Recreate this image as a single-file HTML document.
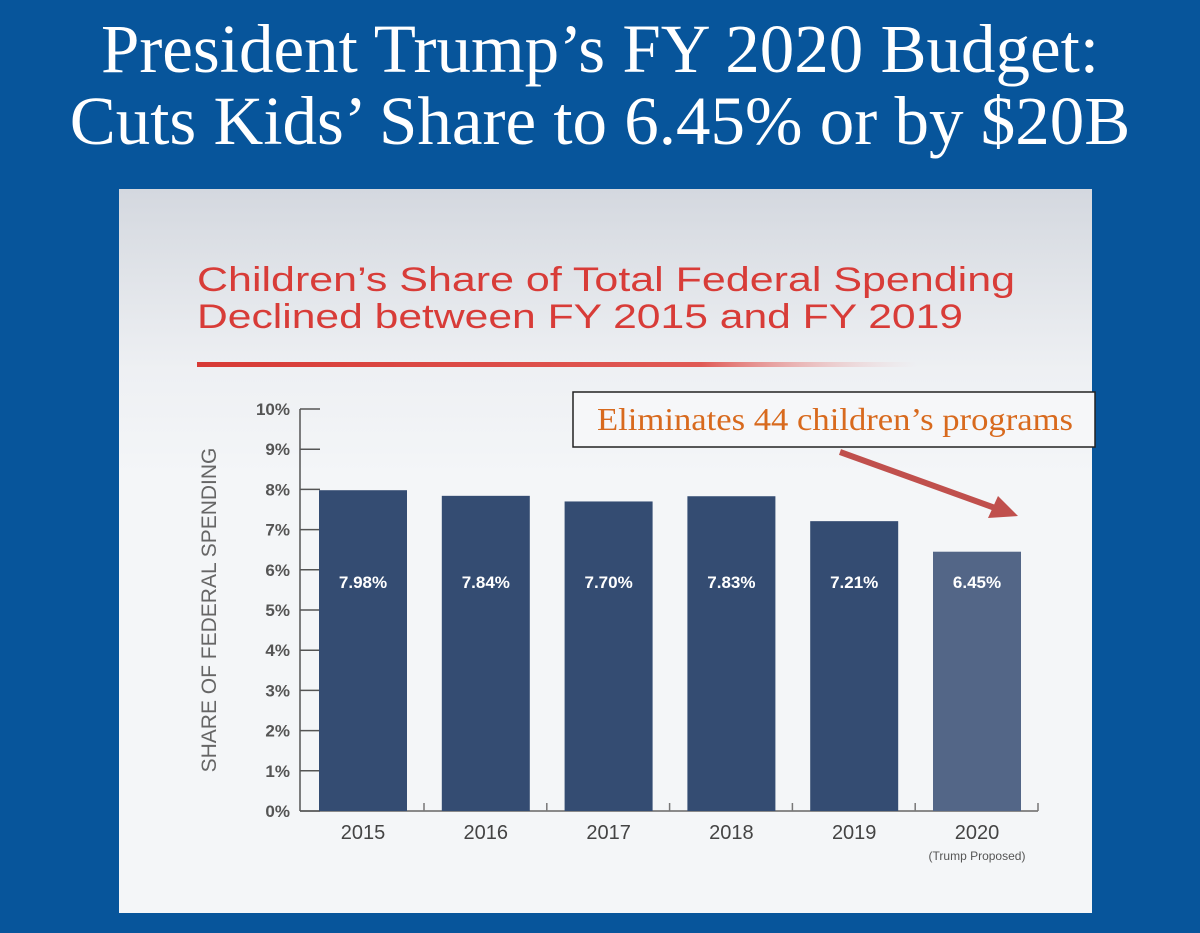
<!DOCTYPE html>
<html><head><meta charset="utf-8"><style>
body{margin:0;width:1200px;height:933px;background:#07559b;overflow:hidden;font-family:"Liberation Sans",sans-serif}
#t{position:absolute;left:0;top:13px;width:1200px;text-align:center;color:#fff;font-family:"Liberation Serif",serif;font-size:69px;line-height:72px}
#panel{position:absolute;left:119px;top:189px;width:973px;height:724px;background:linear-gradient(#d4d8df,#eef0f3 25%,#f4f6f8 40%,#f4f6f8)}
svg{position:absolute;left:0;top:0}
</style></head><body>
<div id="t">President Trump’s FY 2020 Budget:<br>Cuts Kids’ Share to 6.45% or by $20B</div>
<div id="panel"></div>
<svg width="1200" height="933" id="chart">
<defs><linearGradient id="rl" x1="0" x2="1"><stop offset="0" stop-color="#d73a35"/><stop offset="0.7" stop-color="#e05a55"/><stop offset="1" stop-color="#f0c0c0" stop-opacity="0"/></linearGradient></defs>
<text x="197" y="291" font-size="34" fill="#d83c38" textLength="818" lengthAdjust="spacingAndGlyphs">Children’s Share of Total Federal Spending</text>
<text x="197" y="328" font-size="34" fill="#d83c38" textLength="766" lengthAdjust="spacingAndGlyphs">Declined between FY 2015 and FY 2019</text>
<rect x="197" y="362" width="720" height="5" fill="url(#rl)"/>
<text transform="translate(216,610) rotate(-90)" text-anchor="middle" font-size="21" fill="#666">SHARE OF FEDERAL SPENDING</text>
<g id="ax"></g><g id="bars"></g>
<rect x="573" y="392" width="522" height="55" fill="#f6f7f9" stroke="#222" stroke-width="1.5"/>
<text x="597" y="430" font-family="Liberation Serif,serif" font-size="32" fill="#d86a1e" textLength="476" lengthAdjust="spacingAndGlyphs">Eliminates 44 children’s programs</text>
<line x1="840" y1="452" x2="995" y2="508" stroke="#c0504d" stroke-width="6"/>
<polygon points="1018,516 988,518 998,496" fill="#c0504d"/>
</svg>
<script>
const years=["2015","2016","2017","2018","2019","2020"];
const values=[7.98,7.84,7.70,7.83,7.21,6.45];
const labels=["7.98%","7.84%","7.70%","7.83%","7.21%","6.45%"];
const ticks=[0,1,2,3,4,5,6,7,8,9,10];
const NS="http://www.w3.org/2000/svg";
const y0=811,py=40.2,x0=319,pitch=122.8,bw=88;
const Y=v=>y0-v*py, X=i=>x0+i*pitch;
function mk(t,a,p){const e=document.createElementNS(NS,t);for(const k in a)e.setAttribute(k,a[k]);p.appendChild(e);return e;}
const ax=document.getElementById('ax'),bars=document.getElementById('bars');
let l=mk('line',{x1:300,y1:Y(10),x2:300,y2:y0,stroke:'#555','stroke-width':1.5},ax);


l=mk('line',{x1:300,y1:y0,x2:1038,y2:y0,stroke:'#666','stroke-width':1.5},ax);


ticks.forEach(t=>{
 const tl=mk('line',{x1:300,y1:Y(t),x2:320,y2:Y(t),stroke:'#555','stroke-width':1.5},ax);
 
 
 const tx=mk('text',{x:290,y:Y(t)+6,'text-anchor':'end','font-size':17,'font-weight':'bold',fill:'#555'},ax);
 tx.textContent=t+'%';
 
 
});
years.forEach((yr,i)=>{
 const x=X(i);
 const r=mk('rect',{x:x,y:Y(values[i]),width:bw,height:values[i]*py,fill:i==5?'#536687':'#344c72'},bars);
 
 
 const tk=mk('line',{x1:x+bw+17,y1:y0-8,x2:x+bw+17,y2:y0,stroke:'#777','stroke-width':1.5},ax);
 
 
 const v=mk('text',{x:x+bw/2,y:588,'text-anchor':'middle','font-size':17,'font-weight':'bold',fill:'#fff'},bars);
 v.textContent=labels[i];
 
 
 const c=mk('text',{x:x+bw/2,y:839,'text-anchor':'middle','font-size':20,fill:'#444'},bars);
 c.textContent=yr;
 
 
});
const n=mk('text',{x:X(5)+bw/2,y:860,'text-anchor':'middle','font-size':12,fill:'#555'},bars);
n.textContent='(Trump Proposed)';


</script>
</body></html>
